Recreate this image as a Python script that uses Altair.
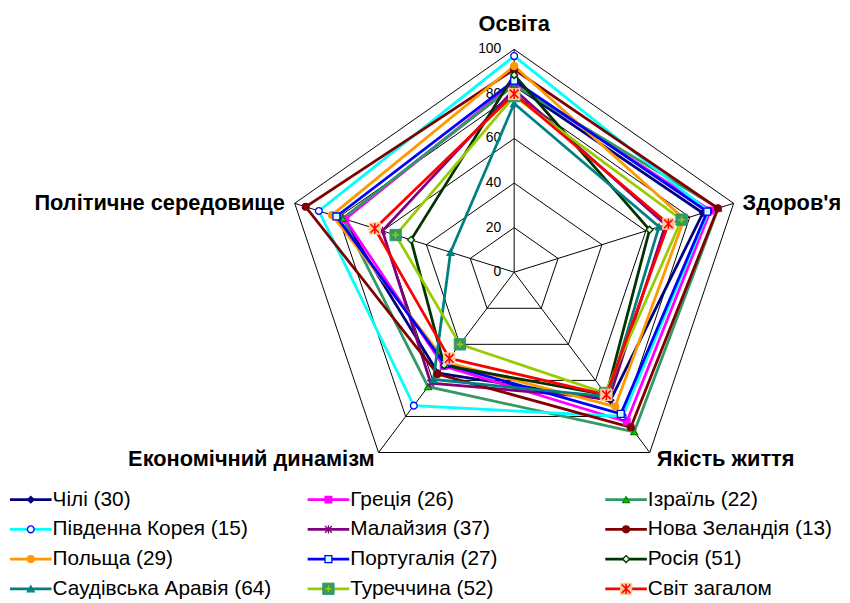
import altair as alt
import pandas as pd

categories = ["Освіта", "Здоров'я", "Якість життя", "Економічний динамізм", "Політичне середовище"]
series = ["Чілі (30)", "Греція (26)", "Ізраїль (22)", "Південна Корея (15)", "Малайзия (37)",
          "Нова Зеландія (13)", "Польща (29)", "Португалія (27)", "Росія (51)",
          "Саудівська Аравія (64)", "Туреччина (52)", "Світ загалом"]
chile = [84, 86, 71, 56, 78]
greece = [85, 89.5, 83, 52, 77]
israel = [84, 93, 88.5, 63.5, 78]
korea = [97, 88.5, 80, 74, 89]
malaysia = [82, 69, 70, 61.5, 60]
nz = [91, 92.8, 86, 56.5, 95]
poland = [92.5, 77.5, 74.5, 50, 83]
portugal = [86, 88, 78.6, 51, 81]
russia = [88.5, 61.7, 68, 51.6, 47]
saudi = [75.7, 66, 69, 59.5, 29]
turkey = [79, 76.3, 67, 40, 54]
world = [80, 70.3, 68, 47.8, 63.5]
values = [chile, greece, israel, korea, malaysia, nz, poland, portugal, russia, saudi, turkey, world]
ticks = [0, 20, 40, 60, 80, 100]

line_colors = ["#000080", "#FF00FF", "#339966", "#00FFFF", "#800080", "#800000",
               "#FF9900", "#0000FF", "#003300", "#008080", "#99CC00", "#FF0000"]
ASTER = "M-1,-1L1,1M-1,1L1,-1M0,-1.2L0,1.2"
PLUS = "M-0.75,0L0.75,0M0,-0.75L0,0.75"
# base markers for the first ten series
base_series = series[:10]
shapes = ["diamond", "square", "triangle-up", "circle", ASTER, "circle",
          "circle", "square", "diamond", "triangle-up"]
fills = ["#000080", "#FF00FF", "#00CC00", "#FFFFFF", "#800080", "#800000",
         "#FF9900", "#CCFFFF", "#CCFFCC", "#008080"]
strokes = ["#000080", "#FF00FF", "#008000", "#0000FF", "#800080", "#800000",
           "#FF9900", "#0000FF", "#003300", "#008080"]
sizes = [45, 50, 60, 55, 60, 65, 65, 65, 55, 60]

# composite markers: square background + glyph
comp_series = ["Туреччина (52)", "Світ загалом"]
comp_bg = ["#339966", "#FFCC99"]
comp_shapes = [PLUS, ASTER]
comp_colors = ["#99CC00", "#FF0000"]

FONT = "Liberation Sans"

rows = []
for si, (s, vals) in enumerate(zip(series, values)):
    for k in range(6):
        rows.append({"series": s, "si": si, "k": k, "v": vals[k % 5]})
df = pd.DataFrame(rows)

ring_rows = [{"level": t, "k": k} for t in ticks if t > 0 for k in range(6)]
rings = pd.DataFrame(ring_rows)
spokes = pd.DataFrame({"k": list(range(5)), "v": [ticks[-1]] * 5, "z": [0] * 5})
tick_df = pd.DataFrame({"v": ticks, "z": [0] * len(ticks), "lab": [str(t) for t in ticks]})
cat_df = pd.DataFrame({"cat": categories, "k": list(range(5)), "v": [ticks[-1]] * 5})

xs = alt.Scale(domain=[-218.5, 139.5], nice=False, zero=False)
ys = alt.Scale(domain=[-91.6, 117.3], nice=False, zero=False)
X = lambda f: alt.X(f, type="quantitative", scale=xs, axis=None)
Y = lambda f: alt.Y(f, type="quantitative", scale=ys, axis=None)


def to_xy(chart, r="datum.v"):
    return chart.transform_calculate(ang="datum.k * 2 * PI / 5").transform_calculate(
        x=f"{r} * sin(datum.ang)", y=f"{r} * cos(datum.ang)")


ring_layer = to_xy(alt.Chart(rings), "datum.level").mark_line(
    color="#000000", strokeWidth=1).encode(
    x=X("x"), y=Y("y"), detail="level:N", order="k:Q")

spoke_layer = to_xy(alt.Chart(spokes)).mark_rule(color="#000000", strokeWidth=1).encode(
    x=X("x"), y=Y("y"), x2="z:Q", y2="z:Q")

tick_layer = alt.Chart(tick_df).mark_text(
    align="right", baseline="middle", dx=-13, fontSize=14, font=FONT, color="#000000").encode(
    x=X("z"), y=Y("v"), text="lab:N")

color_scale = alt.Scale(domain=series, range=line_colors)
shape_scale = alt.Scale(domain=base_series, range=shapes)
fill_scale = alt.Scale(domain=base_series, range=fills)
stroke_scale = alt.Scale(domain=base_series, range=strokes)
size_scale = alt.Scale(domain=base_series, range=sizes)

line_layer = to_xy(alt.Chart(df)).mark_line(strokeWidth=2.8).encode(
    x=X("x"), y=Y("y"),
    color=alt.Color("series:N", scale=color_scale, legend=None),
    detail="series:N", order="k:Q")

pts = alt.Chart(df).transform_filter("datum.k < 5").transform_filter(
    alt.FieldOneOfPredicate(field="series", oneOf=base_series))
point_layer = to_xy(pts).mark_point(filled=True, strokeWidth=1.3, opacity=1).encode(
    x=X("x"), y=Y("y"),
    shape=alt.Shape("series:N", scale=shape_scale, legend=None),
    fill=alt.Fill("series:N", scale=fill_scale, legend=None),
    stroke=alt.Stroke("series:N", scale=stroke_scale, legend=None),
    size=alt.Size("series:N", scale=size_scale, legend=None))

comp_layers = []
for s, bg, shp, col in zip(comp_series, comp_bg, comp_shapes, comp_colors):
    ov = alt.Chart(df).transform_filter("datum.k < 5").transform_filter(
        alt.FieldEqualPredicate(field="series", equal=s))
    comp_layers.append(to_xy(ov).mark_point(
        filled=True, shape="square", fill=bg, stroke=bg, strokeWidth=1, opacity=1, size=130).encode(
        x=X("x"), y=Y("y")))
    comp_layers.append(to_xy(ov).mark_point(
        filled=False, shape=shp, stroke=col, strokeWidth=1.6, opacity=1, size=75).encode(
        x=X("x"), y=Y("y")))

label_specs = [("center", 0, -26), ("left", 9, 0), ("left", 7, 7), ("right", -4, 7), ("right", -10, 0)]
label_layers = []
for cat, (al, dx, dy) in zip(categories, label_specs):
    label_layers.append(
        to_xy(alt.Chart(cat_df).transform_filter(alt.FieldEqualPredicate(field="cat", equal=cat))).mark_text(
            align=al, baseline="middle", dx=dx, dy=dy, fontSize=22, fontWeight="bold", font=FONT,
            color="#000000").encode(x=X("x"), y=Y("y"), text="cat:N"))

radar = alt.layer(ring_layer, spoke_layer, tick_layer, line_layer, point_layer, *comp_layers,
                  *label_layers).properties(width=834, height=470)

# legend
leg_df = pd.DataFrame({"series": series, "i": list(range(len(series)))})
lx = alt.Scale(domain=[0, 834], nice=False, zero=False)
ly = alt.Scale(domain=[0, 117], nice=False, zero=False, reverse=True)
LX = lambda f: alt.X(f, type="quantitative", scale=lx, axis=None)
LY = lambda f: alt.Y(f, type="quantitative", scale=ly, axis=None)

leg_base = alt.Chart(leg_df).transform_calculate(
    col="datum.i % 3", row="floor(datum.i / 3)").transform_calculate(
    x0="datum.col * 300.5", x1="datum.col * 300.5 + 42", xm="datum.col * 300.5 + 21",
    xt="datum.col * 300.5 + 43", yy="23.5 + datum.row * 30")

leg_lines = leg_base.mark_rule(strokeWidth=2.8).encode(
    x=LX("x0"), x2="x1:Q", y=LY("yy"),
    color=alt.Color("series:N", scale=color_scale, legend=None))
leg_pts = leg_base.transform_filter(
    alt.FieldOneOfPredicate(field="series", oneOf=base_series)).mark_point(
    filled=True, strokeWidth=1.3, opacity=1).encode(
    x=LX("xm"), y=LY("yy"),
    shape=alt.Shape("series:N", scale=shape_scale, legend=None),
    fill=alt.Fill("series:N", scale=fill_scale, legend=None),
    stroke=alt.Stroke("series:N", scale=stroke_scale, legend=None),
    size=alt.Size("series:N", scale=size_scale, legend=None))
leg_comp = []
for s, bg, shp, col in zip(comp_series, comp_bg, comp_shapes, comp_colors):
    b = leg_base.transform_filter(alt.FieldEqualPredicate(field="series", equal=s))
    leg_comp.append(b.mark_point(filled=True, shape="square", fill=bg, stroke=bg, strokeWidth=1,
                                 opacity=1, size=130).encode(x=LX("xm"), y=LY("yy")))
    leg_comp.append(b.mark_point(filled=False, shape=shp, stroke=col, strokeWidth=1.6, opacity=1,
                                 size=75).encode(x=LX("xm"), y=LY("yy")))
leg_text = leg_base.mark_text(align="left", baseline="middle", fontSize=21, font=FONT,
                              color="#000000").encode(x=LX("xt"), y=LY("yy"), text="series:N")

legend = alt.layer(leg_lines, leg_pts, *leg_comp, leg_text).properties(width=834, height=117)

chart = alt.vconcat(radar, legend, spacing=0).properties(padding=0).configure_view(
    stroke=None).resolve_scale(x="independent", y="independent")

chart.save("out.html", embed_options={"renderer": "svg", "actions": False})
